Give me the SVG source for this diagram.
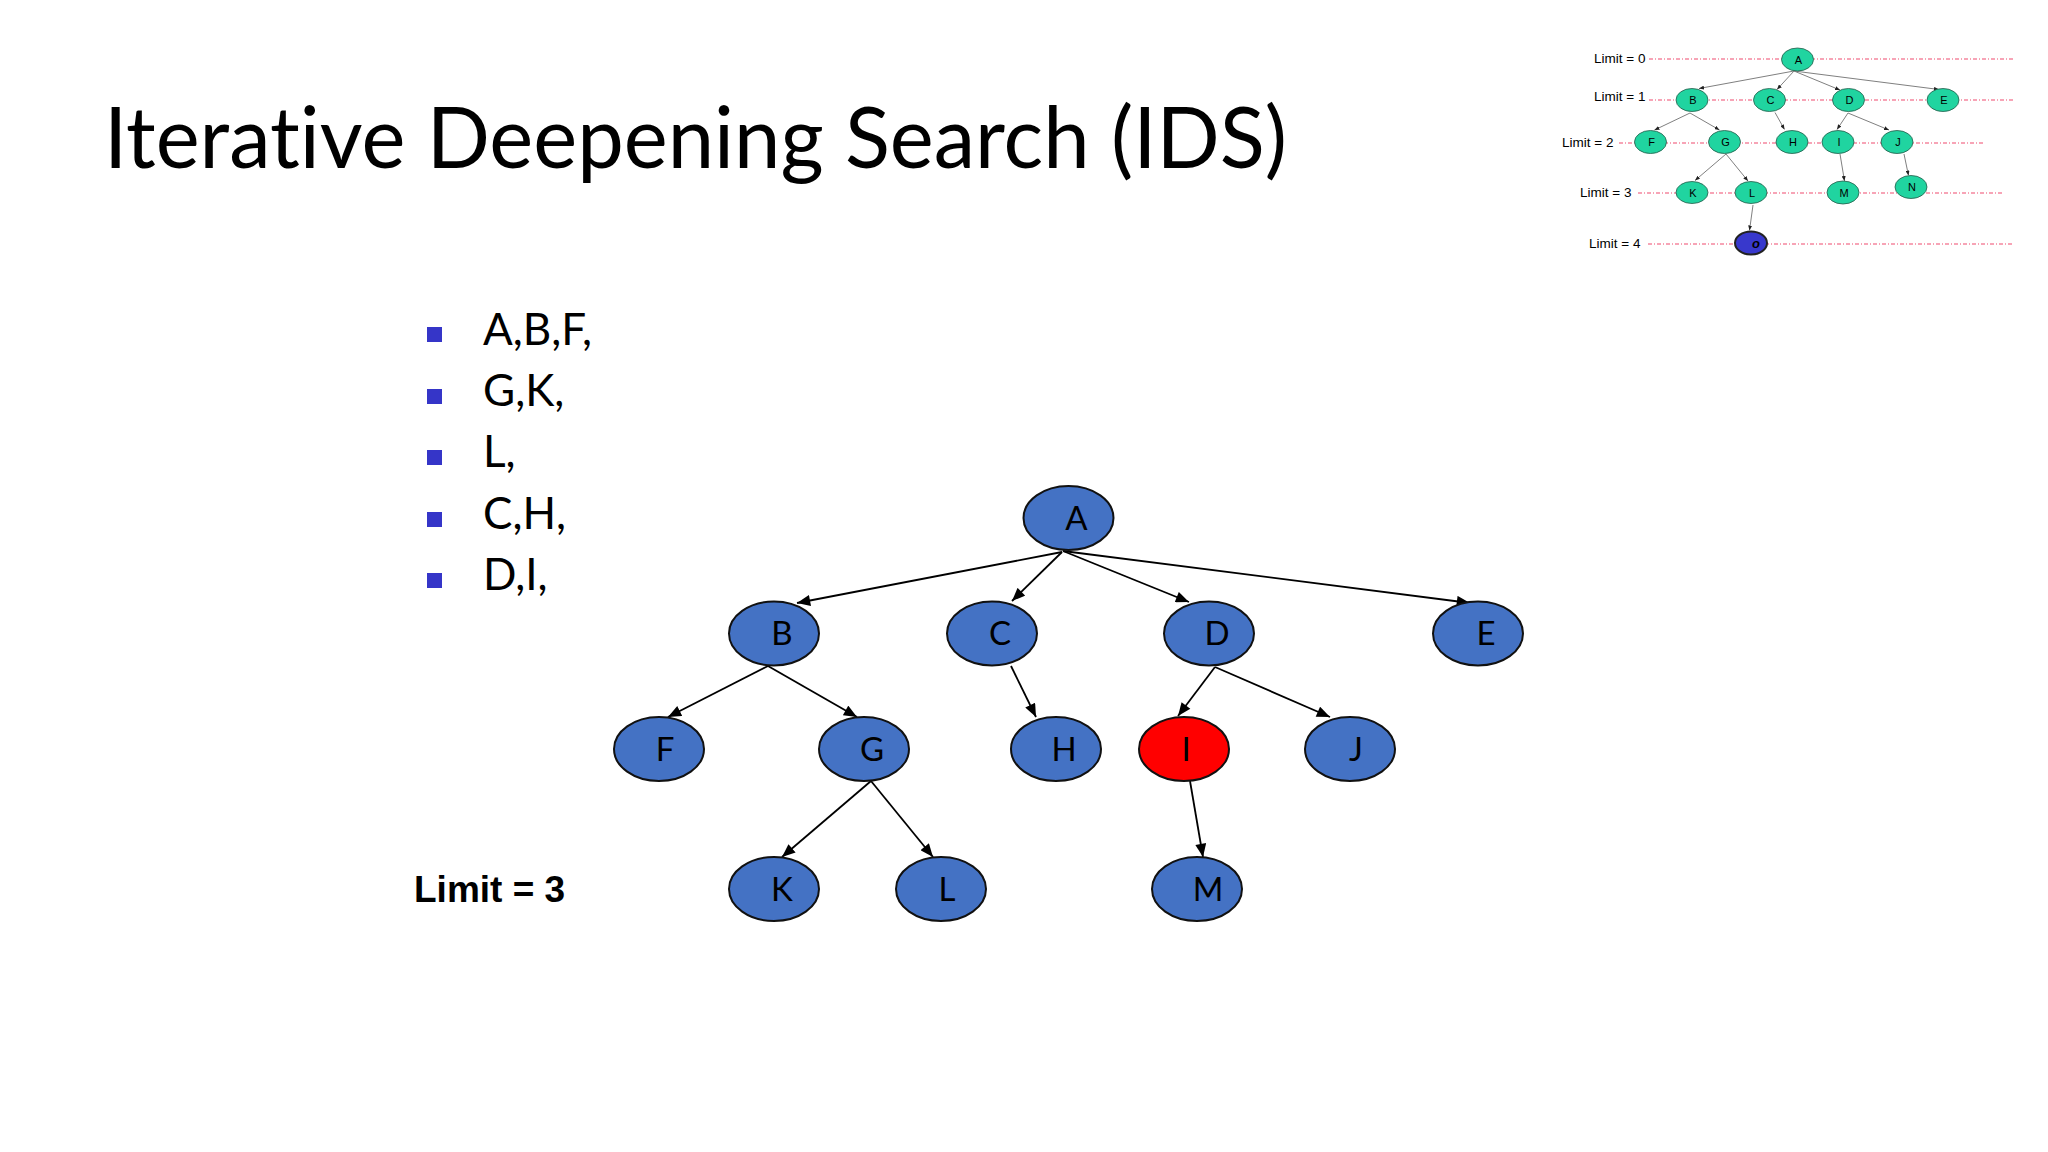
<svg xmlns="http://www.w3.org/2000/svg" width="2048" height="1152" viewBox="0 0 2048 1152">
<defs>
<style>
.title{font-family:Lato,"Open Sans",sans-serif;font-size:85px;fill:#000;font-variant-ligatures:none}
.bul{fill:#3535C8}
.btxt{font-family:Lato,"Open Sans",sans-serif;font-size:44px;fill:#000}
.lim{font-family:"Liberation Sans",Arial,sans-serif;font-size:37px;font-weight:bold;fill:#000}
.node ellipse{fill:#4472C4;stroke:#111;stroke-width:2}
.node.hit ellipse{fill:#FF0000}
.node text{font-family:Lato,"Open Sans",sans-serif;font-size:33px;fill:#000;text-anchor:middle}
.edge{stroke:#000;stroke-width:1.8;fill:none;marker-end:url(#arr)}
.iedge{stroke:#808080;stroke-width:1;fill:none;marker-end:url(#iarr)}
.inode ellipse{fill:#20D4A0;stroke:#2a5a4a;stroke-width:0.8}
.inode text{font-family:"Liberation Sans",Arial,sans-serif;font-size:11px;fill:#000;text-anchor:middle}
.ilbl{font-family:"Liberation Sans",Arial,sans-serif;font-size:13.5px;fill:#000}
.dash{stroke:#F04A6E;stroke-width:1.2;stroke-dasharray:4 2 1 2;fill:none}
</style>
<marker id="arr" viewBox="0 0 12 10" refX="12" refY="5" markerWidth="14" markerHeight="11" markerUnits="userSpaceOnUse" orient="auto">
<path d="M0,0 L12,5 L0,10 z" fill="#000"/>
</marker>
<marker id="iarr" viewBox="0 0 10 8" refX="10" refY="4" markerWidth="5" markerHeight="4" markerUnits="userSpaceOnUse" orient="auto">
<path d="M0,0 L10,4 L0,8 z" fill="#222"/>
</marker>
</defs>
<rect width="2048" height="1152" fill="#fff"/>

<text class="title" x="104" y="168" textLength="1183" lengthAdjust="spacingAndGlyphs">Iterative Deepening Search (IDS)</text>

<g id="bullets">
<rect class="bul" x="427" y="327" width="15" height="15"/>
<rect class="bul" x="427" y="389" width="15" height="15"/>
<rect class="bul" x="427" y="450" width="15" height="15"/>
<rect class="bul" x="427" y="512" width="15" height="15"/>
<rect class="bul" x="427" y="573" width="15" height="15"/>
<text class="btxt" x="483" y="345">A,B,F,</text>
<text class="btxt" x="483" y="406">G,K,</text>
<text class="btxt" x="483" y="467">L,</text>
<text class="btxt" x="483" y="529">C,H,</text>
<text class="btxt" x="483" y="590">D,I,</text>
</g>

<text class="lim" x="414" y="902">Limit = 3</text>

<g id="connectors">
<line class="edge" x1="1062" y1="552" x2="797" y2="603"/>
<line class="edge" x1="1062" y1="552" x2="1012" y2="601"/>
<line class="edge" x1="1063" y1="551" x2="1189" y2="602"/>
<line class="edge" x1="1063" y1="551" x2="1470" y2="603"/>
<line class="edge" x1="768" y1="666" x2="668" y2="717"/>
<line class="edge" x1="768" y1="666" x2="857" y2="717"/>
<line class="edge" x1="1011" y1="666" x2="1036" y2="717"/>
<line class="edge" x1="1215" y1="667" x2="1178" y2="716"/>
<line class="edge" x1="1215" y1="667" x2="1330" y2="717"/>
<line class="edge" x1="871" y1="781" x2="782" y2="857"/>
<line class="edge" x1="871" y1="781" x2="933" y2="857"/>
<line class="edge" x1="1190" y1="781" x2="1203" y2="857"/>
</g>

<g id="nA" class="node"><ellipse cx="1068.5" cy="518" rx="45" ry="32"/><text x="1076.5" y="529.5">A</text></g>
<g id="nB" class="node"><ellipse cx="774" cy="633.5" rx="45" ry="32"/><text x="782" y="645">B</text></g>
<g id="nC" class="node"><ellipse cx="992" cy="633.5" rx="45" ry="32"/><text x="1000" y="645">C</text></g>
<g id="nD" class="node"><ellipse cx="1209" cy="633.5" rx="45" ry="32"/><text x="1217" y="645">D</text></g>
<g id="nE" class="node"><ellipse cx="1478" cy="633.5" rx="45" ry="32"/><text x="1486" y="645">E</text></g>
<g id="nF" class="node"><ellipse cx="659" cy="749" rx="45" ry="32"/><text x="665" y="760.5">F</text></g>
<g id="nG" class="node"><ellipse cx="864" cy="749" rx="45" ry="32"/><text x="872" y="760.5">G</text></g>
<g id="nH" class="node"><ellipse cx="1056" cy="749" rx="45" ry="32"/><text x="1064" y="760.5">H</text></g>
<g id="nI" class="node hit"><ellipse cx="1184" cy="749" rx="45" ry="32"/><text x="1186" y="760.5">I</text></g>
<g id="nJ" class="node"><ellipse cx="1350" cy="749" rx="45" ry="32"/><text x="1356" y="760.5">J</text></g>
<g id="nK" class="node"><ellipse cx="774" cy="889" rx="45" ry="32"/><text x="782" y="900.5">K</text></g>
<g id="nL" class="node"><ellipse cx="941" cy="889" rx="45" ry="32"/><text x="947" y="900.5">L</text></g>
<g id="nM" class="node"><ellipse cx="1197" cy="889" rx="45" ry="32"/><text x="1208" y="900.5">M</text></g>

<g id="inset">
<line class="dash" x1="1649" y1="59" x2="2014" y2="59"/>
<line class="dash" x1="1649" y1="100" x2="2014" y2="100"/>
<line class="dash" x1="1619" y1="143" x2="1984" y2="143"/>
<line class="dash" x1="1638" y1="193" x2="2003" y2="193"/>
<line class="dash" x1="1648" y1="244" x2="2013" y2="244"/>
<text class="ilbl" x="1594" y="63">Limit = 0</text>
<text class="ilbl" x="1594" y="101">Limit = 1</text>
<text class="ilbl" x="1562" y="147">Limit = 2</text>
<text class="ilbl" x="1580" y="196.5">Limit = 3</text>
<text class="ilbl" x="1589" y="247.5">Limit = 4</text>
<g id="inset-connectors">
<line class="iedge" x1="1794" y1="71" x2="1699" y2="88.5"/>
<line class="iedge" x1="1794" y1="71" x2="1777" y2="89.5"/>
<line class="iedge" x1="1794" y1="71" x2="1840" y2="90"/>
<line class="iedge" x1="1794" y1="71" x2="1939" y2="89.5"/>
<line class="iedge" x1="1690" y1="113" x2="1654.5" y2="130"/>
<line class="iedge" x1="1690" y1="113" x2="1719.5" y2="130"/>
<line class="iedge" x1="1775" y1="112.5" x2="1784.5" y2="129.5"/>
<line class="iedge" x1="1848" y1="113" x2="1837" y2="129.5"/>
<line class="iedge" x1="1848" y1="113" x2="1889" y2="130"/>
<line class="iedge" x1="1726" y1="154" x2="1695" y2="180.5"/>
<line class="iedge" x1="1726" y1="154" x2="1748" y2="181"/>
<line class="iedge" x1="1840" y1="154" x2="1844.5" y2="181"/>
<line class="iedge" x1="1904" y1="154" x2="1908.5" y2="175.5"/>
<line class="iedge" x1="1753" y1="205" x2="1749.5" y2="230.5"/>
</g>
<g id="iA" class="inode"><ellipse cx="1797.5" cy="59.5" rx="16" ry="11.5"/><text x="1798.5" y="63.5">A</text></g>
<g id="iB" class="inode"><ellipse cx="1692" cy="100" rx="16" ry="11.5"/><text x="1693" y="104">B</text></g>
<g id="iC" class="inode"><ellipse cx="1769.5" cy="100" rx="16" ry="11.5"/><text x="1770.5" y="104">C</text></g>
<g id="iD" class="inode"><ellipse cx="1848.5" cy="100" rx="16" ry="11.5"/><text x="1849.5" y="104">D</text></g>
<g id="iE" class="inode"><ellipse cx="1943" cy="100" rx="16" ry="11.5"/><text x="1944" y="104">E</text></g>
<g id="iF" class="inode"><ellipse cx="1650.5" cy="142" rx="16" ry="11.5"/><text x="1651.5" y="146">F</text></g>
<g id="iG" class="inode"><ellipse cx="1724.5" cy="142" rx="16" ry="11.5"/><text x="1725.5" y="146">G</text></g>
<g id="iH" class="inode"><ellipse cx="1792" cy="142" rx="16" ry="11.5"/><text x="1793" y="146">H</text></g>
<g id="iI" class="inode"><ellipse cx="1838" cy="142" rx="16" ry="11.5"/><text x="1839" y="146">I</text></g>
<g id="iJ" class="inode"><ellipse cx="1897" cy="142" rx="16" ry="11.5"/><text x="1898" y="146">J</text></g>
<g id="iK" class="inode"><ellipse cx="1692" cy="192.5" rx="16" ry="11"/><text x="1693" y="196.5">K</text></g>
<g id="iL" class="inode"><ellipse cx="1751" cy="192.5" rx="16" ry="11"/><text x="1752" y="196.5">L</text></g>
<g id="iM" class="inode"><ellipse cx="1843" cy="192.5" rx="16" ry="11.5"/><text x="1844" y="196.5">M</text></g>
<g id="iN" class="inode"><ellipse cx="1911" cy="187" rx="16" ry="11.5"/><text x="1912" y="191">N</text></g>
<g id="iO"><ellipse cx="1751" cy="243" rx="16" ry="11.5" fill="#3838CC" stroke="#222" stroke-width="2"/><text x="1756" y="247.5" font-family="'Liberation Sans',Arial,sans-serif" font-size="13" font-weight="bold" font-style="italic" text-anchor="middle" fill="#000">o</text></g>
</g>
</svg>
